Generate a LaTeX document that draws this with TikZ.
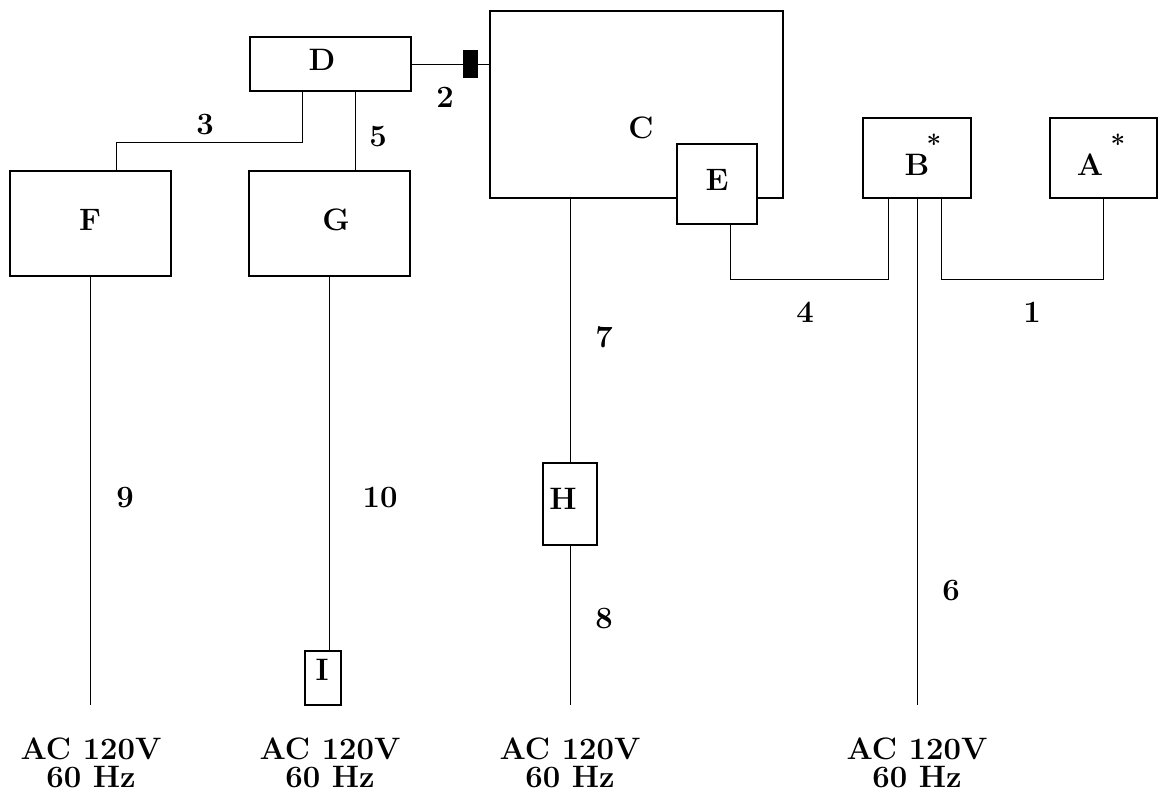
\documentclass[tikz,border=0pt]{standalone}
\usepackage{tikz, xcolor}
\usetikzlibrary{calc}

\begin{document}
\begin{tikzpicture}[x=.5pt, y=-.5pt,
    every node/.style={font=\fontsize{15.5}{14}\selectfont\bfseries, inner sep=0pt},
    box/.style={draw, line width=1.3pt, fill=white},
    star/.style={font=\fontsize{13}{14}\selectfont\bfseries},
    wire/.style={line width=.5pt}]
    \useasboundingbox (0, 0) rectangle (1158, 799);

    \coordinate (bot) at (0, 705);

    \node [box, minimum width=146.5pt, minimum height=93.5pt] (C) at (636.5, 104.5) {};
    \node [box, minimum width=40pt, minimum height=40pt] (E) at (717, 184) {};
    \node [box, minimum width=80.5pt, minimum height=27pt] (D) at (330.5, 64) {};
    \node [box, minimum width=80.5pt, minimum height=52.5pt] (F) at (90.5, 223.5) {};
    \node [box, minimum width=80.5pt, minimum height=52.5pt] (G) at (329.5, 223.5) {};
    \node [box, minimum width=54pt, minimum height=40pt] (B) at (917, 158) {};
    \node [box, minimum width=53.5pt, minimum height=40pt] (A) at (1103.5, 158) {};
    \node [box, minimum width=27pt, minimum height=41pt] (H) at (570, 504) {};
    \node [box, minimum width=18pt, minimum height=27pt] (I) at (323, 678) {};
    \node [fill=black, minimum width=7.5pt, minimum height=14pt] (plug) at (470.5, 64) {};

    \node (Ct) at (641, 128) {C};
    \node (Et) at (717, 180) {E};
    \node (Dt) at (322, 60) {D};
    \node (Ft) at (90, 220) {F};
    \node (Gt) at (336, 220) {G};
    \node (Bt) at (917, 165) {B};
    \node [star] (Bs) at (934, 144) {*};
    \node (At) at (1090, 165) {A};
    \node [star] (As) at (1118, 144) {*};
    \node (Ht) at (563, 499) {H};
    \node (It) at (322, 670) {I};

    \draw [wire] (D.east) to (D.east -| plug.west);
    \draw [wire] (plug.east) to (C.west |- plug.east);
    \draw [wire] ($(D.south west)+(54, 0)$) |- ($(F.north west)+(108, -27)$) to ($(F.north west)+(108, 0)$);
    \draw [wire] ($(D.south west)+(107, 0)$) coordinate (d5) to (d5 |- G.north);
    \draw [wire] (F.south) to (F.south |- bot);
    \draw [wire] (G.south) to (G.south |- I.north);
    \draw [wire] (H.north |- C.south) to (H.north);
    \draw [wire] (H.south) to (H.south |- bot);
    \draw [wire] ($(E.south)+(13, 0)$) |- ($(B.south west)+(27, 80)$) to ($(B.south west)+(27, 0)$);
    \draw [wire] (A.south) |- ($(B.south west)+(80, 80)$) to ($(B.south west)+(80, 0)$);
    \draw [wire] (B.south) to (B.south |- bot);

    \node (n1) at (1032, 312) {1};
    \node (n2) at (445, 97) {2};
    \node (n3) at (205, 125) {3};
    \node (n4) at (805, 312) {4};
    \node (n5) at (378, 137) {5};
    \node (n6) at (951, 591) {6};
    \node (n7) at (604, 337) {7};
    \node (n8) at (604, 619) {8};
    \node (n9) at (125, 498) {9};
    \node (n10) at (380, 498) {10};

    \node [align=center] (acF) at (91, 763) {AC 120V\\60 Hz};
    \node [align=center] (acG) at (330, 763) {AC 120V\\60 Hz};
    \node [align=center] (acH) at (570, 763) {AC 120V\\60 Hz};
    \node [align=center] (acB) at (917, 763) {AC 120V\\60 Hz};
  \end{tikzpicture}
\end{document}
